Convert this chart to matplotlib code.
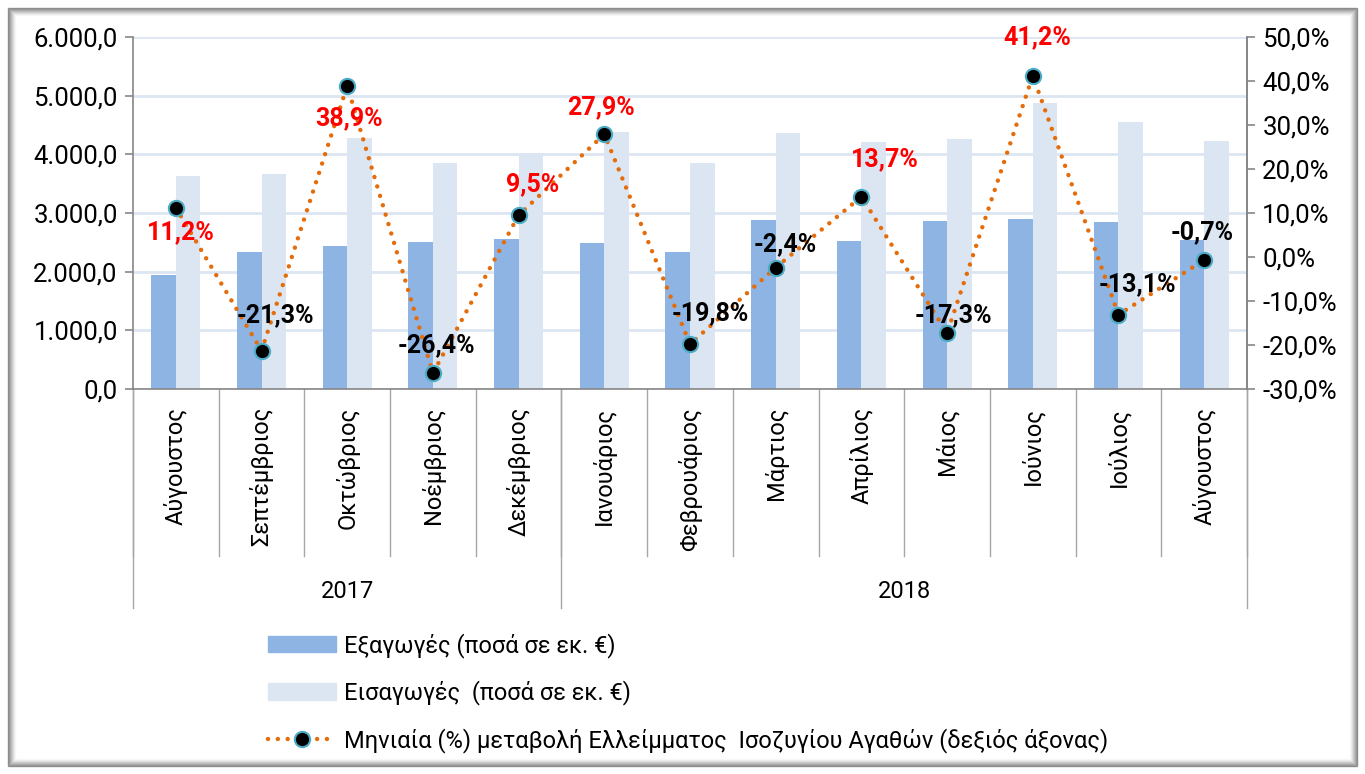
import numpy as np
import matplotlib.pyplot as plt
from matplotlib.ticker import FuncFormatter, MultipleLocator
from matplotlib.patches import Rectangle
from matplotlib.lines import Line2D
from matplotlib.patches import Patch

plt.rcParams['font.family'] = ['Roboto', 'DejaVu Sans']

###########################
months = ['Αύγουστος', 'Σεπτέμβριος', 'Οκτώβριος', 'Νοέμβριος', 'Δεκέμβριος',
          'Ιανουάριος', 'Φεβρουάριος', 'Μάρτιος', 'Απρίλιος', 'Μάιος',
          'Ιούνιος', 'Ιούλιος', 'Αύγουστος']
years = ['2017', '2018']
year_counts = [5, 8]
exports = [1950, 2340, 2440, 2510, 2550, 2490, 2340, 2880, 2520, 2860, 2900, 2850, 2540]
imports = [3630, 3670, 4280, 3860, 4030, 4380, 3860, 4360, 4210, 4260, 4870, 4550, 4230]
change = [11.2, -21.3, 38.9, -26.4, 9.5, 27.9, -19.8, -2.4, 13.7, -17.3, 41.2, -13.1, -0.7]

lbl_exp = 'Εξαγωγές (ποσά σε εκ. €)'
lbl_imp = 'Εισαγωγές  (ποσά σε εκ. €)'
lbl_chg = 'Μηνιαία (%) μεταβολή Ελλείμματος  Ισοζυγίου Αγαθών (δεξιός άξονας)'

# label offsets (pixels) for each data label
lbl_dx = [5, 14, 2, 4, 14, -3, 20, 10, 23, 6, 4, 19, -2]
lbl_dy = [-24, 36, -32, 28, 31, 27, 31, 23, 38, 18, 39, 30, 28]

c_exp = '#8EB4E3'
c_imp = '#DCE6F2'
c_line = '#E46C0A'
c_grid = '#DCE6F2'
c_axis = '#868686'
FS = 17
###########################

W, H = 1365, 774
fig = plt.figure(figsize=(W / 100, H / 100), dpi=100)

# frame with soft shadow
for k in range(8):
    a = 0.7 * (1 - k / 8) ** 1.5
    fig.patches.append(Rectangle(((8 + k) / W, (8 + k) / H), (W - 16 - 2 * k) / W, (H - 16 - 2 * k) / H,
                                 transform=fig.transFigure, fill=False,
                                 edgecolor=(0.4, 0.4, 0.4, a), linewidth=1.0))

ax = fig.add_axes([133 / W, 1 - 389 / H, (1247 - 133) / W, (389 - 37) / H])
x = np.arange(len(months))
bw = 0.286
ax.bar(x - bw / 2, exports, bw, color=c_exp, zorder=2, label=lbl_exp)
ax.bar(x + bw / 2, imports, bw, color=c_imp, zorder=2, label=lbl_imp)
ax.set_xlim(-0.5, len(months) - 0.5)
ax.set_ylim(0, 6000)
ax.yaxis.set_major_locator(MultipleLocator(1000))
ax.yaxis.set_major_formatter(FuncFormatter(lambda v, p: f'{v:,.1f}'.replace(',', 'X').replace('.', ',').replace('X', '.')))
ax.grid(axis='y', color=c_grid, linewidth=2, zorder=0)
ax.set_axisbelow(True)
ax.spines['top'].set_visible(False)
for s in ['left', 'bottom', 'right']:
    ax.spines[s].set_color(c_axis)
    ax.spines[s].set_linewidth(1.2)
ax.tick_params(axis='y', length=6, color=c_axis, width=1.2, labelsize=FS + 1.5, pad=5)
ax.set_xticks(x)
ax.set_xticklabels(months, rotation=90, va='top', ha='center', fontsize=FS)
ax.tick_params(axis='x', length=0, pad=13)

# category separators
trans = ax.get_xaxis_transform()
for i in range(len(months) + 1):
    ax.plot([i - 0.5, i - 0.5], [0, -0.474], transform=trans, color='#A6A6A6', lw=1, clip_on=False)
bounds = np.concatenate([[0], np.cumsum(year_counts)]) - 0.5
for b in bounds:
    ax.plot([b, b], [0, -0.622], transform=trans, color='#A6A6A6', lw=1, clip_on=False)
for j, yr in enumerate(years):
    ax.text((bounds[j] + bounds[j + 1]) / 2, -0.574, yr, transform=trans,
            ha='center', va='center', fontsize=FS)

# right axis
ax2 = ax.twinx()
ax2.set_ylim(-30, 50)
ax2.yaxis.set_major_locator(MultipleLocator(10))
ax2.yaxis.set_major_formatter(FuncFormatter(lambda v, p: f'{v:.1f}%'.replace('.', ',')))
for s in ['top', 'left', 'bottom']:
    ax2.spines[s].set_visible(False)
ax2.spines['right'].set_color(c_axis)
ax2.spines['right'].set_linewidth(1.2)
ax2.tick_params(axis='y', length=6, color=c_axis, width=1.2, labelsize=FS + 1.5, pad=5)
ax2.plot(x, change, color=c_line, linewidth=3.2, linestyle=(0, (0.01, 2.2)),
         dash_capstyle='round', marker='o', markersize=11, markerfacecolor='black',
         markeredgecolor='#4BACC6', markeredgewidth=1.5, zorder=3)
for i, v in enumerate(change):
    col = '#FF0000' if v > 0 else 'black'
    ax2.annotate(f'{v:.1f}%'.replace('.', ','), (x[i], v), xytext=(lbl_dx[i], lbl_dy[i]),
                 textcoords='offset pixels', ha='center', va='center',
                 fontsize=FS + 1, fontweight='bold', color=col, zorder=4)

handles = [Patch(color=c_exp), Patch(color=c_imp),
           Line2D([0], [0], color=c_line, linewidth=3.2, linestyle=(0, (0.01, 2.2)),
                  dash_capstyle='round', marker='o', markersize=11, markerfacecolor='black',
                  markeredgecolor='#4BACC6', markeredgewidth=1.5)]
fig.legend(handles, [lbl_exp, lbl_imp, lbl_chg], loc='upper left',
           bbox_to_anchor=(268 / W, 1 - 633 / H), frameon=False, fontsize=FS,
           handlelength=2.9, handletextpad=0.3, labelspacing=0.95, borderpad=0,
           borderaxespad=0, numpoints=1)

fig.savefig('out.png', dpi=100)
